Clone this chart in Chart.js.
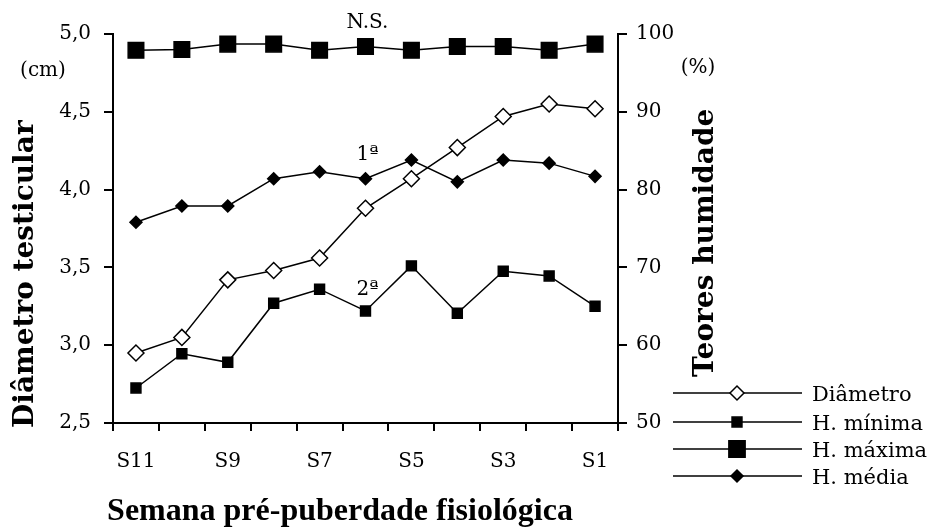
<!DOCTYPE html>
<html lang="pt">
<head>
<meta charset="UTF-8" />
<title>Diâmetro testicular e teores de humidade</title>
<style>
  body { margin: 0; background: #ffffff; }
  #wrap { width: 933px; height: 528px; }
</style>
<script src="https://cdn.jsdelivr.net/npm/chart.js"></script>
</head>
<body>
<div id="wrap"><canvas id="grafico" width="933" height="528"></canvas></div>
<script>
// semanas antes da puberdade fisiológica
const semanas = ['S11', 'S10', 'S9', 'S8', 'S7', 'S6', 'S5', 'S4', 'S3', 'S2', 'S1'];

// diâmetro testicular (cm), eixo da esquerda
const diametro = [2.95, 3.05, 3.42, 3.48, 3.56, 3.88, 4.07, 4.27, 4.47, 4.55, 4.52];

// teores de humidade (%), eixo da direita
const hMinima = [54.5, 58.9, 57.8, 65.4, 67.2, 64.4, 70.2, 64.1, 69.5, 68.9, 65.0];
const hMaxima = [97.9, 98.0, 98.7, 98.7, 97.9, 98.4, 97.9, 98.4, 98.4, 97.9, 98.7];
const hMedia = [75.8, 77.9, 77.9, 81.4, 82.3, 81.4, 83.8, 81.0, 83.8, 83.4, 81.7];

const fonteTicks = { family: 'DejaVu Serif', size: 20 };
const preto = '#000000';

// textos soltos: títulos dos eixos, unidades, notas e legenda
const textos = {
  id: 'textos',
  afterDraw(chart) {
    const ctx = chart.ctx;
    const x = chart.scales.x;
    const y1 = chart.scales.y1;
    ctx.save();
    ctx.fillStyle = preto;

    // títulos verticais
    ctx.font = 'bold 28px "DejaVu Serif"';
    ctx.textAlign = 'left';
    ctx.textBaseline = 'alphabetic';
    ctx.save();
    ctx.translate(33, 428);
    ctx.rotate(-Math.PI / 2);
    ctx.fillText('Diâmetro testicular', 0, 0);
    ctx.restore();
    ctx.save();
    ctx.translate(713, 377);
    ctx.rotate(-Math.PI / 2);
    ctx.fillText('Teores humidade', 0, 0);
    ctx.restore();

    // título do eixo x
    ctx.font = 'bold 32px "Liberation Serif"';
    ctx.textAlign = 'center';
    ctx.fillText('Semana pré-puberdade fisiológica', 340, 520);

    // unidades
    ctx.font = '20px "DejaVu Serif"';
    ctx.textBaseline = 'middle';
    ctx.fillText('(cm)', 43, 71);
    ctx.fillText('(%)', 698, 68);

    // notas junto às curvas
    const xi = x.getPixelForValue(5) + 2;
    ctx.fillText('N.S.', xi, y1.getPixelForValue(hMaxima[5]) - 24);
    ctx.fillText('1ª', xi, y1.getPixelForValue(hMedia[5]) - 24);
    ctx.fillText('2ª', xi, y1.getPixelForValue(hMinima[5]) - 21);

    // legenda
    const linhas = [
      { nome: 'Diâmetro', estilo: 'rectRot', raio: 7, fundo: '#ffffff', y: 393 },
      { nome: 'H. mínima', estilo: 'rect', raio: 7, fundo: preto, y: 422 },
      { nome: 'H. máxima', estilo: 'rect', raio: 11.5, fundo: preto, y: 449 },
      { nome: 'H. média', estilo: 'rectRot', raio: 6, fundo: preto, y: 476 }
    ];
    ctx.font = '21px "DejaVu Serif"';
    ctx.textAlign = 'left';
    linhas.forEach(l => {
      ctx.strokeStyle = preto;
      ctx.lineWidth = 1.5;
      ctx.beginPath();
      ctx.moveTo(673, l.y);
      ctx.lineTo(802, l.y);
      ctx.stroke();
      ctx.fillStyle = l.fundo;
      Chart.helpers.drawPoint(ctx, { pointStyle: l.estilo, radius: l.raio, borderWidth: 1.5, rotation: 0 }, 737, l.y);
      ctx.fillStyle = preto;
      ctx.fillText(l.nome, 812, l.y + 3);
    });
    ctx.restore();
  }
};

function serie(label, data, eixo, estilo, raio, fundo) {
  return {
    label: label,
    data: data,
    yAxisID: eixo,
    borderColor: preto,
    borderWidth: 1.5,
    pointStyle: estilo,
    pointRadius: raio,
    pointHoverRadius: raio,
    pointBackgroundColor: fundo,
    pointBorderColor: preto,
    pointBorderWidth: 1.5,
    tension: 0,
    clip: false
  };
}

new Chart(document.getElementById('grafico'), {
  type: 'line',
  data: {
    labels: semanas,
    datasets: [
      serie('H. máxima', hMaxima, 'y1', 'rect', 11, preto),
      serie('H. média', hMedia, 'y1', 'rectRot', 6, preto),
      serie('H. mínima', hMinima, 'y1', 'rect', 7, preto),
      serie('Diâmetro', diametro, 'y', 'rectRot', 8, '#ffffff')
    ]
  },
  options: {
    responsive: false,
    animation: false,
    layout: { padding: { top: 34, left: 0, right: 0, bottom: 0 } },
    plugins: {
      legend: { display: false },
      tooltip: { enabled: false }
    },
    scales: {
      x: {
        offset: true,
        afterFit(scale) { scale.height = 105; },
        grid: { offset: true, drawOnChartArea: false, drawTicks: true, tickLength: 8, color: preto, lineWidth: 2 },
        border: { display: true, color: preto, width: 2 },
        ticks: {
          autoSkip: false,
          maxRotation: 0,
          padding: 19,
          color: preto,
          font: fonteTicks,
          callback: (v, i) => (i % 2 === 0 ? semanas[i] : '')
        }
      },
      y: {
        position: 'left',
        min: 2.5,
        max: 5.0,
        afterFit(scale) { scale.width = 113; },
        grid: { drawOnChartArea: false, drawTicks: true, tickLength: 9, color: preto, lineWidth: 2 },
        border: { display: true, color: preto, width: 2 },
        ticks: {
          stepSize: 0.5,
          padding: 13,
          color: preto,
          font: fonteTicks,
          callback: v => v.toFixed(1).replace('.', ',')
        }
      },
      y1: {
        position: 'right',
        min: 50,
        max: 100,
        afterFit(scale) { scale.width = 315; },
        grid: { drawOnChartArea: false, drawTicks: true, tickLength: 9, color: preto, lineWidth: 2 },
        border: { display: true, color: preto, width: 2 },
        ticks: {
          stepSize: 10,
          padding: 9,
          color: preto,
          font: fonteTicks
        }
      }
    }
  },
  plugins: [textos]
});
</script>
</body>
</html>
